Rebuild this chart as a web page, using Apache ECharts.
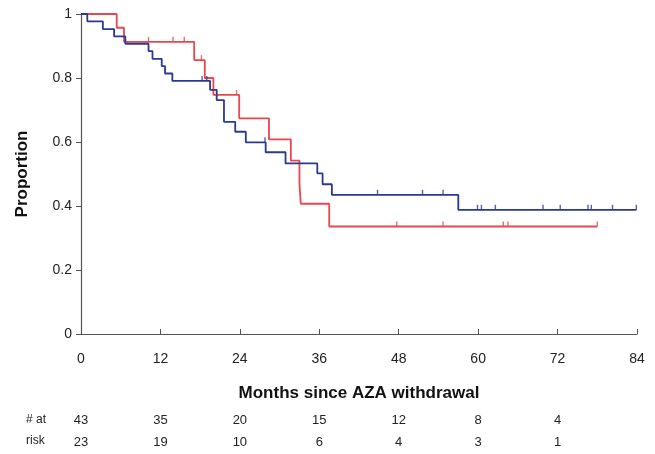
<!DOCTYPE html>
<html>
<head>
<meta charset="utf-8">
<script src="https://cdn.jsdelivr.net/npm/echarts@6/dist/echarts.min.js"></script>
<style>
  html, body { margin: 0; padding: 0; background: #fff; }
  #chart { width: 655px; height: 454px; }
</style>
</head>
<body>
<div id="chart"></div>
<script>
// Kaplan-Meier steps (months, proportion)
const blueTimes = [0, 0.95, 3.3, 5.0, 6.7, 10.2, 10.8, 12.2, 12.7, 13.8, 19.5, 20.5, 21.6, 23.3, 24.9, 27.9, 30.9, 35.7, 36.5, 37.9, 57.0, 83.9];
const blueSurv  = [1, 0.977, 0.953, 0.930, 0.907, 0.884, 0.860, 0.837, 0.814, 0.791, 0.763, 0.731, 0.663, 0.632, 0.599, 0.568, 0.533, 0.502, 0.468, 0.435, 0.388, 0.388];
const blueCensor = [18.3, 19.0, 27.8, 44.8, 51.6, 54.7, 59.9, 60.5, 62.6, 69.8, 72.4, 76.6, 77.1, 80.3, 83.9];

const redTimes = [0, 5.4, 6.5, 17.1, 18.7, 20.0, 23.9, 28.4, 31.7, 33.0, 33.2, 37.5, 78.0];
const redSurv  = [1, 0.957, 0.913, 0.856, 0.800, 0.747, 0.674, 0.608, 0.542, 0.472, 0.407, 0.336, 0.336];
const redCensor = [10.2, 13.9, 15.6, 18.2, 23.5, 47.7, 54.7, 63.8, 64.5, 78.0];

// numbers at risk
const riskTimes = [0, 12, 24, 36, 48, 60, 72];
const riskBlue = [43, 35, 20, 15, 12, 8, 4];
const riskRed = [23, 19, 10, 6, 4, 3, 1];

const BLUE = '#2b3990';
const RED = '#e8474f';
const FONT = '"Liberation Sans", Arial, sans-serif';

function survAt(times, surv, t) {
    let v = surv[0];
    for (let i = 0; i < times.length; i++) {
        if (times[i] <= t) v = surv[i];
    }
    return v;
}

function censorPoints(times, surv, censor) {
    return censor.map(t => [t, survAt(times, surv, t)]);
}

const chart = echarts.init(document.getElementById('chart'));

chart.setOption({
    animation: false,
    backgroundColor: '#fff',
    grid: { left: 81, right: 18, top: 14, bottom: 120 },
    xAxis: {
        type: 'value', min: 0, max: 84, interval: 12,
        name: 'Months since AZA withdrawal',
        nameLocation: 'middle', nameGap: 51,
        nameTextStyle: { fontFamily: FONT, fontSize: 17, fontWeight: 'bold', color: '#111' },
        axisLine: { lineStyle: { color: '#555', width: 1.2 } },
        axisTick: { inside: true, length: 5, lineStyle: { color: '#555' } },
        axisLabel: { fontFamily: FONT, fontSize: 14, color: '#222', margin: 18 },
        splitLine: { show: false }
    },
    yAxis: {
        type: 'value', min: 0, max: 1, interval: 0.2,
        name: 'Proportion',
        nameLocation: 'middle', nameGap: 50,
        nameTextStyle: { fontFamily: FONT, fontSize: 17, fontWeight: 'bold', color: '#111' },
        axisLine: { show: true, lineStyle: { color: '#555', width: 1.2 } },
        axisTick: { show: true, length: 5, lineStyle: { color: '#555' } },
        axisLabel: { fontFamily: FONT, fontSize: 14, color: '#222', margin: 9 },
        splitLine: { show: false }
    },
    series: [
        {
            type: 'line', step: 'end', symbol: 'none',
            data: blueTimes.map((t, i) => [t, blueSurv[i]]),
            lineStyle: { color: BLUE, width: 1.8 }, z: 3
        },
        {
            type: 'line', step: 'end', symbol: 'none',
            data: redTimes.map((t, i) => [t, redSurv[i]]),
            lineStyle: { color: RED, width: 1.8 }, z: 2
        },
        {
            type: 'scatter', symbol: 'rect', symbolSize: [1.4, 5], symbolOffset: [0, -2.5],
            data: censorPoints(blueTimes, blueSurv, blueCensor),
            itemStyle: { color: BLUE }, z: 4
        },
        {
            type: 'scatter', symbol: 'rect', symbolSize: [1.4, 5], symbolOffset: [0, -2.5],
            data: censorPoints(redTimes, redSurv, redCensor),
            itemStyle: { color: RED }, z: 4
        }
    ]
});

// at-risk table below the axis, placed from the x scale
const riskText = [];
const txtStyle = { fontFamily: FONT, fontSize: 13, fill: '#222' };
riskTimes.forEach((t, i) => {
    const x = chart.convertToPixel({ xAxisIndex: 0 }, t);
    riskText.push({ type: 'text', x: x, y: 420, style: Object.assign({ text: String(riskBlue[i]), align: 'center', verticalAlign: 'middle' }, txtStyle) });
    riskText.push({ type: 'text', x: x, y: 442, style: Object.assign({ text: String(riskRed[i]), align: 'center', verticalAlign: 'middle' }, txtStyle) });
});
riskText.push({ type: 'text', x: 26, y: 420, style: Object.assign({ text: '# at', align: 'left', verticalAlign: 'middle' }, txtStyle, { fontSize: 12 }) });
riskText.push({ type: 'text', x: 26, y: 441, style: Object.assign({ text: 'risk', align: 'left', verticalAlign: 'middle' }, txtStyle, { fontSize: 12 }) });

chart.setOption({ graphic: riskText });
</script>
</body>
</html>
